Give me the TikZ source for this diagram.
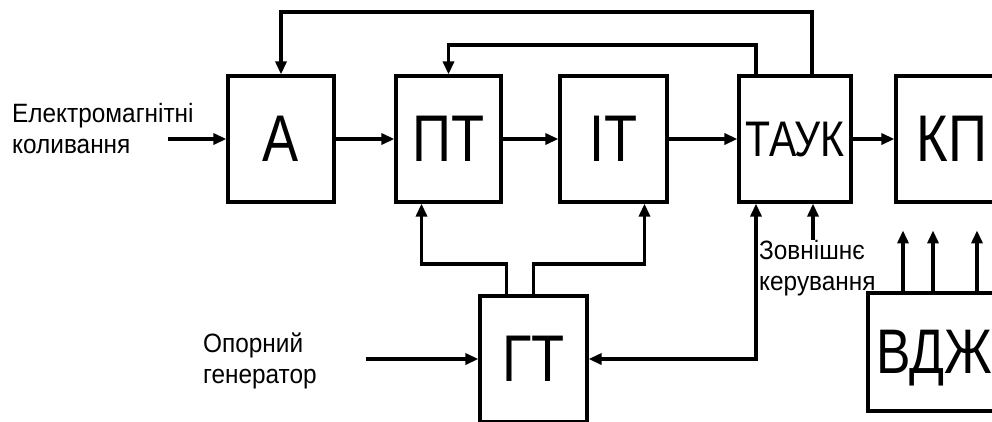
\documentclass[tikz,border=0pt]{standalone}
\usepackage{fontspec}
\setmainfont{Liberation Sans}
\newfontfamily\boxfont{Liberation Sans}[FakeStretch=0.82]
\newfontfamily\labelfont{Liberation Sans}[FakeStretch=0.92]
\usetikzlibrary{arrows.meta}

\begin{document}
\begin{tikzpicture}[
  x=1pt,
  y=-1pt,
  block/.style={draw, line width=3.2pt, inner sep=0pt, text depth=0pt,
    minimum width=106pt, minimum height=126pt,
    font=\boxfont\fontsize{66}{70}\selectfont},
  sig label/.style={align=left, inner sep=0pt, anchor=north west,
    font=\labelfont\fontsize{26.5}{31}\selectfont},
  link/.style={line width=3.2pt,
    -{Triangle[length=13pt,width=11pt]}},
  both link/.style={line width=3.2pt,
    {Triangle[length=13pt,width=11pt]}-{Triangle[length=13pt,width=11pt]}}
]
  \path[use as bounding box] (0,0) rectangle (992,421);
  \clip (0,0) rectangle (992,421);

  % Main signal chain.
  \node[block] (a) at (281,139) {А};
  \node[block, minimum width=105pt] (pt) at (448.5,139) {ПТ};
  \node[block, minimum width=107pt] (it) at (613.5,139) {ІТ};
  \node[block, minimum width=112pt,
    font=\boxfont\fontsize{50}{54}\selectfont] (tauk) at (795,139) {ТАУК};
  \node[block, minimum width=112pt] (kp) at (952,139) {КП};

  % Lower blocks.
  \node[block, minimum width=107pt] (gt) at (533.5,359) {ГТ};
  \node[block, minimum width=132pt, minimum height=118pt,
    font=\boxfont\fontsize{63}{67}\selectfont] (vdzh) at (934,352) {ВДЖ};

  % Input and control texts.
  \node[sig label] (em) at (12,103) {Електромагнітні\\коливання};
  \node[sig label] (ref) at (203,333) {Опорний\\генератор};
  \node[sig label] (ext) at (759,240) {Зовнішнє\\керування};

  \coordinate (emin) at (168,139);
  \coordinate (refin) at (366,359);
  \coordinate (top1) at (0,12);
  \coordinate (top2) at (0,45);
  \coordinate (split) at (0,264);

  \draw[link] (emin) -- (a.west);
  \draw[link] (a.east) -- (pt.west);
  \draw[link] (pt.east) -- (it.west);
  \draw[link] (it.east) -- (tauk.west);
  \draw[link] (tauk.east) -- (kp.west);

  % Feedback from ТАУК.
  \draw[link] ([xshift=17pt]tauk.north) |- (top1 -| a.north) -- (a.north);
  \draw[link] ([xshift=-39pt]tauk.north) |- (top2 -| pt.north) -- (pt.north);

  % Heterodyne outputs.
  \coordinate (ptin) at ([xshift=-27pt]pt.south);
  \coordinate (itin) at ([xshift=31pt]it.south);
  \draw[link] ([xshift=-27pt]gt.north) |- (split -| ptin) -- (ptin);
  \draw[link] (gt.north) |- (split -| itin) -- (itin);
  \draw[link] (refin) -- (gt.west);

  \coordinate (taukin) at ([xshift=-39pt]tauk.south);
  \draw[both link] (gt.east) -| (taukin);

  \coordinate (extin) at ([xshift=18pt]tauk.south);
  \draw[link] (ext.north -| extin) -- (extin);

  \foreach \dx in {-31,-1,43}
    \draw[link] ([xshift=\dx pt]vdzh.north) -- ++(0,-61);
\end{tikzpicture}
\end{document}
